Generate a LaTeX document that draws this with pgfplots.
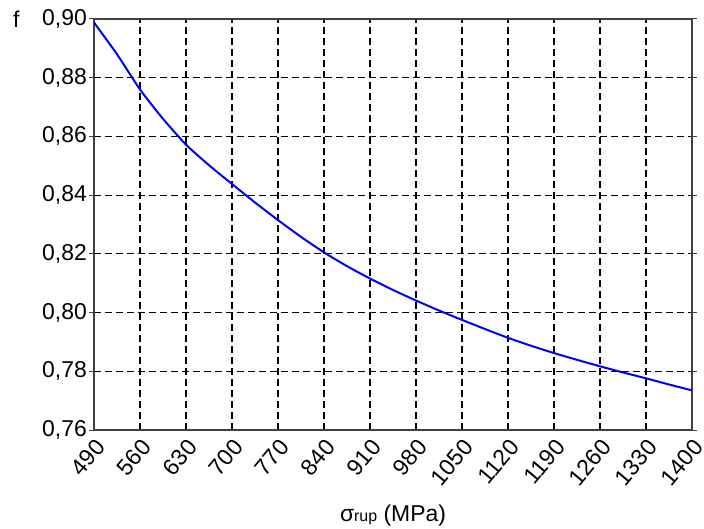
\documentclass[border=0pt]{standalone}
\usepackage{fontspec}
\setmainfont{Liberation Sans}
\usepackage{pgfplots}
\pgfplotsset{compat=1.18}
\begin{document}
\begin{tikzpicture}
\begin{axis}[
  scale only axis,
  width=598bp, height=411bp,
  xmin=490, xmax=1400,
  ymin=0.76, ymax=0.90,
  xtick={490,560,...,1400},
  ytick={0.76,0.78,...,0.901},
  xtick style={draw=none},
  ytick style={draw=black!75, line width=1pt},
  tick align=outside,
  major tick length=5bp,
  grid=major,
  major grid style={black, line width=1.1pt, dash pattern=on 7bp off 4bp},
  axis line style={draw=black!75, line width=1.2pt},
  font=\fontsize{23}{27}\selectfont,
  /pgf/number format/assume math mode=true,
  yticklabel style={inner sep=2pt, /pgf/number format/.cd, fixed, fixed zerofill, precision=2, use comma},
  xticklabel style={rotate=50, anchor=east, inner sep=2pt, yshift=-10pt, xshift=0pt, /pgf/number format/.cd, 1000 sep={}},
  scaled y ticks=false,
  xlabel={σ{\fontsize{16}{18}\selectfont rup} (MPa)},
  xlabel style={yshift=-11pt},
  ylabel={f},
  every axis y label/.style={at={(rel axis cs:0,1)}, anchor=east, xshift=-71bp},
]
\addplot[blue, line width=2pt, smooth, tension=0.4] coordinates {
(490,0.8988) (525,0.8880) (560,0.8760) (595,0.8660) (630,0.8572) (665,0.8502) (700,0.8438)
(735,0.8375) (770,0.8315) (805,0.8258) (840,0.8205) (875,0.8158) (910,0.8116)
(945,0.8077) (980,0.8041) (1015,0.8007) (1050,0.7975) (1085,0.7944) (1120,0.7914)
(1155,0.7887) (1190,0.7862) (1225,0.7839) (1260,0.7817) (1295,0.7796) (1330,0.7776)
(1365,0.7755) (1400,0.7735)
};
\end{axis}
\pgfresetboundingbox
\path ([shift={(-94bp,-99bp)}]current axis.south west) rectangle ([shift={(12bp,19bp)}]current axis.north east);
\end{tikzpicture}
\end{document}
